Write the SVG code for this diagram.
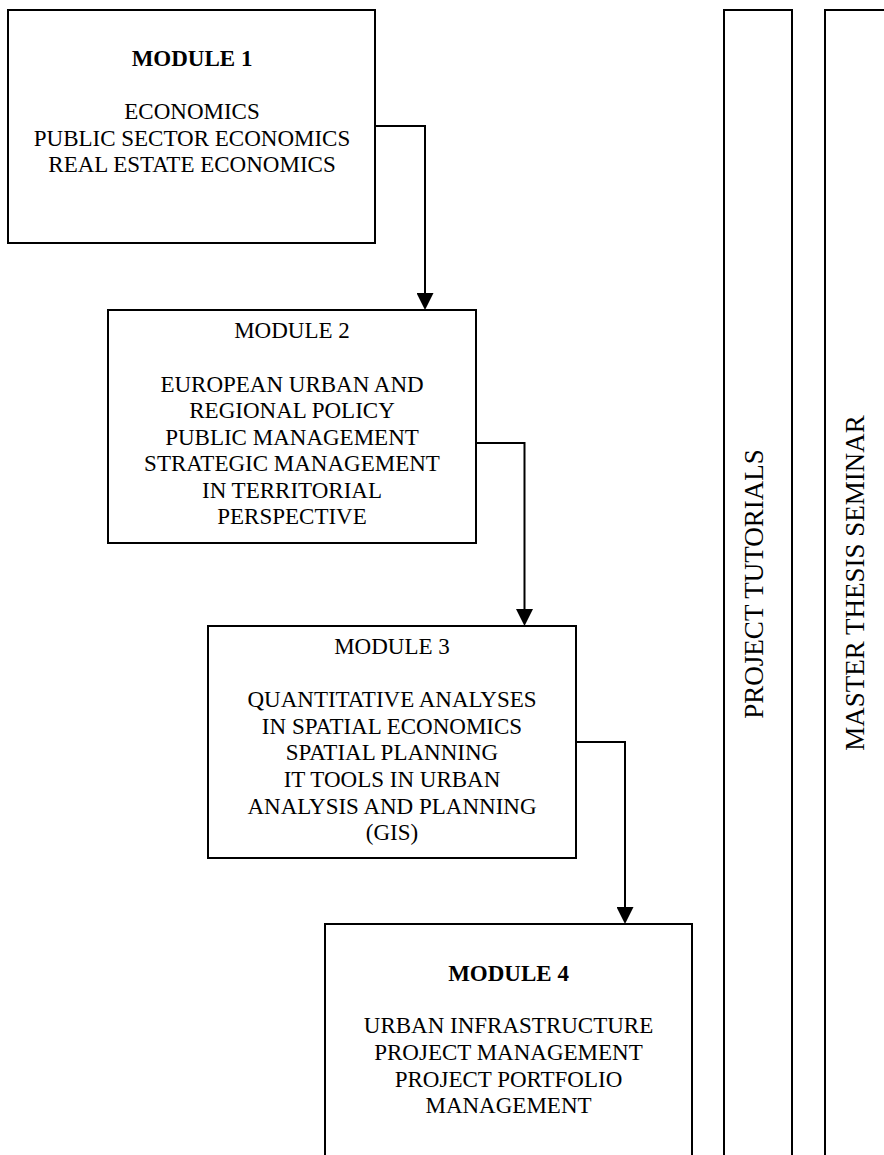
<svg xmlns="http://www.w3.org/2000/svg" width="884" height="1155" viewBox="0 0 884 1155">
<style>
.box{fill:#fff;stroke:#000;stroke-width:2}
.col{fill:#fff;stroke:#000;stroke-width:2}
.t{font-family:"Liberation Serif","Times New Roman",serif;font-size:23px;fill:#000;text-anchor:middle}
.b{font-weight:bold}
.v{font-family:"Liberation Serif","Times New Roman",serif;font-size:27px;fill:#000;text-anchor:middle}
.conn{fill:none;stroke:#000;stroke-width:2}
</style>
<defs>
<marker id="arr" markerUnits="userSpaceOnUse" markerWidth="17" markerHeight="17" refX="3" refY="8.5" orient="auto">
<path d="M0,0 L17,8.5 L0,17 Z" fill="#000"/>
</marker>
</defs>
<rect width="884" height="1155" fill="#fff"/>
<g id="col-project-tutorials">
<rect class="col" x="724" y="10" width="68" height="1160"/>
<text class="v" transform="translate(763,584) rotate(-90)">PROJECT TUTORIALS</text>
</g>
<g id="col-master-thesis-seminar">
<rect class="col" x="825" y="10" width="70" height="1160"/>
<text class="v" transform="translate(864,583) rotate(-90)">MASTER THESIS SEMINAR</text>
</g>
<g id="module1">
<rect class="box" x="8" y="10" width="367" height="233"/>
<text class="t b" x="192" y="66">MODULE 1</text>
<text class="t" x="192" y="119">ECONOMICS</text>
<text class="t" x="192" y="145.6">PUBLIC SECTOR ECONOMICS</text>
<text class="t" x="192" y="172.2">REAL ESTATE ECONOMICS</text>
</g>
<g id="module2">
<rect class="box" x="108" y="310" width="368" height="233"/>
<text class="t" x="292" y="338">MODULE 2</text>
<text class="t" x="292" y="391.5">EUROPEAN URBAN AND</text>
<text class="t" x="292" y="418">REGIONAL POLICY</text>
<text class="t" x="292" y="444.6">PUBLIC MANAGEMENT</text>
<text class="t" x="292" y="471.2">STRATEGIC MANAGEMENT</text>
<text class="t" x="292" y="497.8">IN TERRITORIAL</text>
<text class="t" x="292" y="524.4">PERSPECTIVE</text>
</g>
<g id="module3">
<rect class="box" x="208" y="626" width="368" height="232"/>
<text class="t" x="392" y="654">MODULE 3</text>
<text class="t" x="392" y="707.2">QUANTITATIVE ANALYSES</text>
<text class="t" x="392" y="733.8">IN SPATIAL ECONOMICS</text>
<text class="t" x="392" y="760.4">SPATIAL PLANNING</text>
<text class="t" x="392" y="787">IT TOOLS IN URBAN</text>
<text class="t" x="392" y="813.6">ANALYSIS AND PLANNING</text>
<text class="t" x="392" y="840.2">(GIS)</text>
</g>
<g id="module4">
<rect class="box" x="325" y="924" width="367" height="260"/>
<text class="t b" x="508.5" y="980.5">MODULE 4</text>
<text class="t" x="508.5" y="1033.3">URBAN INFRASTRUCTURE</text>
<text class="t" x="508.5" y="1059.9">PROJECT MANAGEMENT</text>
<text class="t" x="508.5" y="1086.5">PROJECT PORTFOLIO</text>
<text class="t" x="508.5" y="1113.1">MANAGEMENT</text>
</g>
<g id="connectors">
<path class="conn" d="M375,126 H425 V296" marker-end="url(#arr)"/>
<path class="conn" d="M476,443 H524.5 V612" marker-end="url(#arr)"/>
<path class="conn" d="M576,742 H625 V910" marker-end="url(#arr)"/>
</g>
</svg>
